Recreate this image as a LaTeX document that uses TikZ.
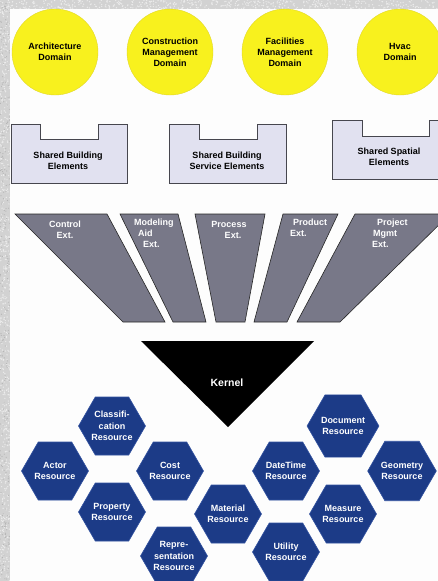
\documentclass[tikz,border=0pt]{standalone}
\usepackage{fontspec}
\setmainfont{Liberation Sans}
\usetikzlibrary{shapes.geometric}

\definecolor{bggray}{RGB}{210,210,210}
\definecolor{speck}{RGB}{236,236,236}
\definecolor{speckdark}{RGB}{180,180,180}
\definecolor{panel}{RGB}{253,253,253}
\definecolor{domainyellow}{RGB}{248,241,30}
\definecolor{domainedge}{RGB}{225,215,40}
\definecolor{sharedfill}{RGB}{225,225,240}
\definecolor{sharededge}{RGB}{70,70,78}
\definecolor{extgray}{RGB}{120,120,136}
\definecolor{hexblue}{RGB}{28,59,135}
\definecolor{hexedge}{RGB}{50,82,160}

\tikzset{
  domaincircle/.style={circle, minimum size=86pt, inner sep=0pt, fill=domainyellow,
    draw=domainedge, line width=0.4pt, align=center,
    font=\fontsize{9}{11}\selectfont\bfseries},
  sharedbox/.style={fill=sharedfill, draw=sharededge, line width=0.8pt},
  sharedtext/.style={align=center, inner sep=0pt,
    font=\fontsize{9}{11.5}\selectfont\bfseries},
  extshape/.style={fill=extgray, draw=black!85, line width=0.6pt},
  exttext/.style={inner sep=0pt, text=white,
    font=\fontsize{9}{11}\selectfont\bfseries},
  resource/.style={regular polygon, regular polygon sides=6, minimum size=66pt,
    inner sep=0pt, fill=hexblue, draw=hexedge, line width=0.6pt, text=white,
    align=center, font=\fontsize{9}{11.5}\selectfont\bfseries},
}

\begin{document}
\begin{tikzpicture}[x=1pt,y=-1pt]
\useasboundingbox (0,0) rectangle (438,581);
\clip (0,0) rectangle (438,581);

% textured frame and white panel
\fill[bggray] (0,0) rectangle (438,581);
\pgfmathsetseed{7}
\foreach \i in {1,...,700}{
  \pgfmathsetmacro{\px}{rnd*438}
  \pgfmathsetmacro{\py}{rnd*12}
  \fill[speck] (\px,\py) circle (0.7);
}
\foreach \i in {1,...,700}{
  \pgfmathsetmacro{\px}{rnd*12}
  \pgfmathsetmacro{\py}{rnd*581}
  \fill[speck] (\px,\py) circle (0.7);
}
\foreach \i in {1,...,300}{
  \pgfmathsetmacro{\px}{rnd*12}
  \pgfmathsetmacro{\py}{rnd*581}
  \fill[speckdark] (\px,\py) circle (0.6);
}
\fill[panel] (10,9) rectangle (438,581);

% domain layer
\node[domaincircle] (arch)   at (55,52)  {Architecture\\Domain};
\node[domaincircle] (constr) at (170,52) {Construction\\Management\\Domain};
\node[domaincircle] (facil)  at (285,52) {Facilities\\Management\\Domain};
\node[domaincircle] (hvac)   at (400,52) {Hvac\\Domain};

% shared element layer (notched blocks)
\draw[sharedbox] (11,124) -- (40,124) -- (40,139) -- (98,139) -- (98,124)
  -- (127,124) -- (127,183) -- (11,183) -- cycle;
\draw[sharedbox] (169,124) -- (199,124) -- (199,139) -- (257,139) -- (257,124)
  -- (286,124) -- (286,183) -- (169,183) -- cycle;
\draw[sharedbox] (332,120) -- (362,120) -- (362,136) -- (429,136) -- (429,120)
  -- (446,120) -- (446,179) -- (332,179) -- cycle;
\node[sharedtext] (sbe)  at (68,161)  {Shared Building\\Elements};
\node[sharedtext] (sbse) at (227,161) {Shared Building\\Service Elements};
\node[sharedtext] (sse)  at (389,157) {Shared Spatial\\Elements};

% extension layer (fan of trapezoids)
\draw[extshape] (15,214) -- (107,214) -- (165,322) -- (123,322) -- cycle;
\draw[extshape] (120,214) -- (178,214) -- (206,322) -- (173,322) -- cycle;
\draw[extshape] (195,214) -- (265,214) -- (245,322) -- (216,322) -- cycle;
\draw[extshape] (283,214) -- (338,214) -- (287,322) -- (254,322) -- cycle;
\draw[extshape] (355,214) -- (450,214) -- (340,322) -- (297,322) -- cycle;
\node[exttext, align=center] (ctrl) at (65,230) {Control\\Ext.};
\node[exttext, align=left, anchor=north west] (model) at (134,219)
  {Modeling\\\hspace*{4pt}Aid\\\hspace*{9pt}Ext.};
\node[exttext, align=center] (proc) at (229,230) {Process\\\hspace*{8pt}Ext.};
\node[exttext, align=left, anchor=north west] (prod) at (290,219)
  {\hspace*{3pt}Product\\Ext.};
\node[exttext, align=left, anchor=north west] (proj) at (372,219)
  {\hspace*{5pt}Project\\\hspace*{1pt}Mgmt\\Ext.};

% kernel
\fill[black] (141,341) -- (314,341) -- (228,427) -- cycle;
\node[text=white, inner sep=0pt, font=\fontsize{10.5}{12}\selectfont\bfseries]
  (kernel) at (227,383) {Kernel};

% resource layer
\node[resource] (classif) at (112,426) {Classifi-\\cation\\Resource};
\node[resource] (actor)   at (55,471)  {Actor\\Resource};
\node[resource] (cost)    at (170,471) {Cost\\Resource};
\node[resource] (prop)    at (112,512) {Property\\Resource};
\node[resource] (repr)    at (174,556) {Repre-\\sentation\\Resource};
\node[resource] (material) at (228,514) {Material\\Resource};
\node[resource] (datetime) at (286,471) {DateTime\\Resource};
\node[resource] (document) at (343,426) {Document\\Resource};
\node[resource] (geometry) at (402,471) {Geometry\\Resource};
\node[resource] (measure)  at (343,514) {Measure\\Resource};
\node[resource] (utility)  at (286,552) {Utility\\Resource};
\end{tikzpicture}
\end{document}
